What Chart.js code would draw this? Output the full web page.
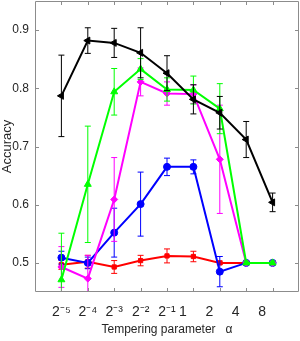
<!DOCTYPE html>
<html>
<head>
<meta charset="utf-8">
<script src="https://cdn.jsdelivr.net/npm/chart.js@4"></script>
<style>
  html, body { margin: 0; padding: 0; background: #fff; }
  #wrap { width: 300px; height: 341px; }
</style>
</head>
<body>
<div id="wrap"><canvas id="accChart" width="300" height="341"></canvas></div>
<script>
/* ---------- data ---------- */
const alphaLabels = ["2\u207B\u2075", "2\u207B\u2074", "2\u207B\u00B3", "2\u207B\u00B2", "2\u207B\u00B9",
  "1\u2002\u2002\u2002", "2\u2002\u2002\u2002", "4\u2002\u2002\u2002", "8\u2002\u2002\u2002"];
const yTicks = [0.5, 0.6, 0.7, 0.8, 0.9];

const blackVals = [0.787, 0.882, 0.878, 0.861, 0.826, 0.781, 0.758, 0.712, 0.604];
const blackErr  = [0.070, 0.022, 0.025, 0.043, 0.030, 0.025, 0.028, 0.031, 0.016];
const greenVals = [0.471, 0.635, 0.794, 0.833, 0.798, 0.797, 0.765, 0.500, 0.500];
const greenErr  = [0.080, 0.100, 0.040, 0.018, 0.020, 0.024, 0.043, 0.003, 0.003];
const magentaVals = [0.493, 0.473, 0.609, 0.811, 0.791, 0.790, 0.678, 0.500, 0.500];
const magentaErr  = [0.035, 0.040, 0.072, 0.024, 0.020, 0.016, 0.093, 0.003, 0.003];
const blueVals = [0.509, 0.500, 0.552, 0.601, 0.665, 0.665, 0.485, 0.500, 0.500];
const blueErr  = [0.011, 0.010, 0.042, 0.055, 0.015, 0.012, 0.026, 0.002, 0.002];
const redVals = [0.497, 0.502, 0.493, 0.504, 0.512, 0.511, 0.500, 0.500, 0.500];
const redErr  = [0.008, 0.011, 0.011, 0.009, 0.012, 0.009, 0.003, 0.003, 0.003];

const FRAME = "#8c8c8c";
const TEXT = "#262626";
const FONT = "'Liberation Sans', Arial, sans-serif";

function pts(vals) { return vals.map((v, i) => ({ x: i, y: v })); }

function series(vals, err, color, style, radius, rot) {
  return {
    data: pts(vals),
    errs: err,
    borderColor: color,
    backgroundColor: color,
    borderWidth: 2,
    pointStyle: style,
    pointRadius: radius,
    pointRotation: rot || 0,
    pointBorderWidth: 1,
    tension: 0,
  };
}

/* ---------- plugins: error bars + MATLAB-style box ---------- */
const errorBars = {
  id: "errorBars",
  afterDatasetDraw(chart, args) {
    const ds = chart.data.datasets[args.index];
    const xs = chart.scales.x, ys = chart.scales.y, a = chart.chartArea;
    const ctx = chart.ctx;
    ctx.save();
    ctx.beginPath();
    ctx.rect(a.left, a.top, a.right - a.left, a.bottom - a.top);
    ctx.clip();
    ctx.strokeStyle = ds.borderColor;
    ctx.lineWidth = 1;
    ds.data.forEach((p, i) => {
      const e = ds.errs[i];
      const px = xs.getPixelForValue(p.x);
      const top = ys.getPixelForValue(p.y + e);
      const bot = ys.getPixelForValue(p.y - e);
      ctx.beginPath();
      ctx.moveTo(px, top); ctx.lineTo(px, bot);
      ctx.moveTo(px - 3, top); ctx.lineTo(px + 3, top);
      ctx.moveTo(px - 3, bot); ctx.lineTo(px + 3, bot);
      ctx.stroke();
    });
    ctx.restore();
  },
};

const boxFrame = {
  id: "boxFrame",
  afterDraw(chart) {
    const a = chart.chartArea, ctx = chart.ctx;
    const xs = chart.scales.x, ys = chart.scales.y;
    ctx.save();
    ctx.strokeStyle = FRAME;
    ctx.lineWidth = 1;
    ctx.beginPath();
    ctx.rect(a.left + 0.5, a.top + 0.5, a.right - a.left - 1, a.bottom - a.top - 1);
    xs.ticks.forEach(t => {
      const px = Math.round(xs.getPixelForValue(t.value)) + 0.5;
      ctx.moveTo(px, a.bottom); ctx.lineTo(px, a.bottom - 4);
      ctx.moveTo(px, a.top); ctx.lineTo(px, a.top + 4);
    });
    ys.ticks.forEach(t => {
      const py = Math.round(ys.getPixelForValue(t.value)) + 0.5;
      ctx.moveTo(a.left, py); ctx.lineTo(a.left + 4, py);
      ctx.moveTo(a.right, py); ctx.lineTo(a.right - 4, py);
    });
    ctx.stroke();
    ctx.restore();
  },
};

/* ---------- chart ---------- */
const ctx = document.getElementById("accChart").getContext("2d");
new Chart(ctx, {
  type: "line",
  data: {
    datasets: [
      series(blackVals, blackErr, "#000000", "triangle", 4, -90),
      series(greenVals, greenErr, "#00ff00", "triangle", 4),
      series(magentaVals, magentaErr, "#ff00ff", "rectRot", 3.5),
      series(blueVals, blueErr, "#0000ff", "circle", 3.5),
      series(redVals, redErr, "#ff0000", "rect", 3),
    ],
  },
  options: {
    responsive: false,
    animation: false,
    layout: { autoPadding: false, padding: { top: 1, right: 1, left: 0, bottom: 0 } },
    plugins: { legend: { display: false }, tooltip: { enabled: false } },
    scales: {
      x: {
        type: "linear",
        min: -1,
        max: 9,
        afterBuildTicks: s => { s.ticks = alphaLabels.map((_, i) => ({ value: i })); },
        afterFit: s => { s.height = 49; s.paddingLeft = 0; s.paddingRight = 0; },
        grid: { display: false, drawTicks: false },
        border: { display: false },
        ticks: {
          autoSkip: false,
          maxRotation: 0,
          padding: 12,
          color: TEXT,
          font: { family: FONT, size: 14 },
          callback: v => alphaLabels[v] ?? "",
        },
        title: {
          display: true,
          text: "Tempering parameter   \u03B1",
          color: TEXT,
          padding: { top: 1 },
          font: { family: FONT, size: 12 },
        },
      },
      y: {
        min: 0.45,
        max: 0.95,
        afterBuildTicks: s => { s.ticks = yTicks.map(v => ({ value: v })); },
        afterFit: s => { s.width = 35; s.paddingTop = 0; s.paddingBottom = 0; },
        grid: { display: false, drawTicks: false },
        border: { display: false },
        ticks: {
          padding: 6,
          color: TEXT,
          font: { family: FONT, size: 12 },
          callback: v => v.toFixed(1),
        },
        title: {
          display: true,
          text: "Accuracy",
          color: TEXT,
          padding: 0,
          font: { family: FONT, size: 13 },
        },
      },
    },
  },
  plugins: [errorBars, boxFrame],
});
</script>
</body>
</html>
